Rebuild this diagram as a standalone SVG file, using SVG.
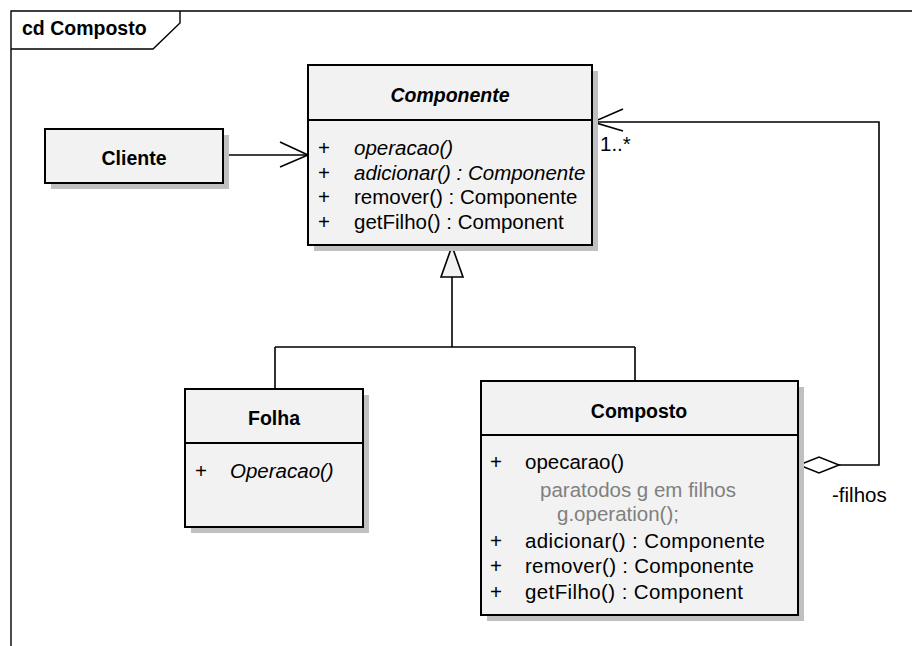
<svg xmlns="http://www.w3.org/2000/svg" width="912" height="646" viewBox="0 0 912 646">
  <style>
    text { font-family: "Liberation Sans", Arial, sans-serif; fill: #000; }
    .title { font-size: 19.5px; font-weight: bold; text-anchor: middle; }
    .item { font-size: 20.5px; }
    .abs { font-style: italic; }
    .note { fill: #808080; }
    .box { fill: #f2f2f2; stroke: #000; stroke-width: 2; }
    .shadow { fill: #c0c0c0; stroke: none; }
    .div { stroke: #000; stroke-width: 2; }
    .line { fill: none; stroke: #000; stroke-width: 1.6; }
    .frame { fill: none; stroke: #000; stroke-width: 1.4; }
  </style>
  <rect width="912" height="646" fill="#fff"/>

  <!-- diagram frame -->
  <g id="frame">
    <path class="frame" d="M11,646 V11 H912"/>
    <path class="frame" d="M11,49 H153 L180,23 V11"/>
    <text x="22" y="35" style="font-size:19.5px;font-weight:bold">cd Composto</text>
  </g>

  <!-- connectors -->
  <g id="connectors">
    <!-- Cliente to Componente -->
    <path class="line" d="M223,155 H308"/>
    <path class="line" d="M280,142 L308,155 L280,167"/>
    <!-- generalization -->
    <path class="line" d="M452,277 V347 M275,347 H635 M275,347 V389 M635,347 V381"/>
    <polygon points="452,246 441,277 463,277" fill="#f2f2f2" stroke="#000" stroke-width="1.6"/>
    <!-- aggregation filhos -->
    <path class="line" d="M839,465 H879 V122 H593"/>
    <path class="line" d="M623,109 L593,122 L623,131"/>
    <polygon points="799,465 819,457 839,465 819,473" fill="#fff" stroke="#000" stroke-width="1.6"/>
    <text class="item" x="600" y="151">1..*</text>
    <text class="item" x="832" y="502">-filhos</text>
  </g>

  <!-- Cliente -->
  <g id="cliente">
    <rect class="shadow" x="51" y="135" width="178" height="54"/>
    <rect class="box" x="45" y="129" width="178" height="54"/>
    <text class="title" x="134" y="165">Cliente</text>
  </g>

  <!-- Componente -->
  <g id="componente">
    <rect class="shadow" x="314" y="71" width="284" height="180"/>
    <rect class="box" x="308" y="65" width="284" height="180"/>
    <line class="div" x1="308" y1="120" x2="592" y2="120"/>
    <text class="title abs" x="450" y="102">Componente</text>
    <text class="item" x="318" y="155">+</text>
    <text class="item abs" x="354" y="155">operacao()</text>
    <text class="item" x="318" y="180">+</text>
    <text class="item abs" x="354" y="180">adicionar() : Componente</text>
    <text class="item" x="318" y="204">+</text>
    <text class="item" x="354" y="204">remover() : Componente</text>
    <text class="item" x="318" y="229">+</text>
    <text class="item" x="354" y="229">getFilho() : Component</text>
  </g>

  <!-- Folha -->
  <g id="folha">
    <rect class="shadow" x="191" y="395" width="178" height="138"/>
    <rect class="box" x="185" y="389" width="178" height="138"/>
    <line class="div" x1="185" y1="443" x2="363" y2="443"/>
    <text class="title" x="274" y="425">Folha</text>
    <text class="item" x="195" y="478">+</text>
    <text class="item abs" x="230" y="478">Operacao()</text>
  </g>

  <!-- Composto -->
  <g id="composto">
    <rect class="shadow" x="487" y="387" width="317" height="234"/>
    <rect class="box" x="481" y="381" width="317" height="234"/>
    <line class="div" x1="481" y1="435" x2="798" y2="435"/>
    <text class="title" x="639" y="418">Composto</text>
    <text class="item" x="490" y="469">+</text>
    <text class="item" x="525" y="469">opecarao()</text>
    <text class="item note" x="540" y="497">paratodos g em filhos</text>
    <text class="item note" x="557" y="521">g.operation();</text>
    <text class="item" x="490" y="548">+</text>
    <text class="item" x="525" y="548" textLength="240">adicionar() : Componente</text>
    <text class="item" x="490" y="573">+</text>
    <text class="item" x="525" y="573" textLength="229">remover() : Componente</text>
    <text class="item" x="490" y="599">+</text>
    <text class="item" x="525" y="599" textLength="218">getFilho() : Component</text>
  </g>
</svg>
